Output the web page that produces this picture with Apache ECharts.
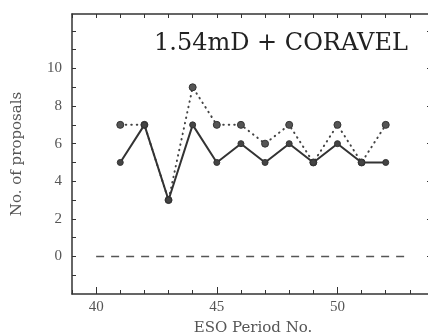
<!DOCTYPE html>
<html>
<head>
<meta charset="utf-8">
<script src="https://cdn.jsdelivr.net/npm/echarts@6/dist/echarts.min.js"></script>
<style>
  html, body { margin: 0; padding: 0; background: #fff; }
  #chart { width: 428px; height: 332px; }
</style>
</head>
<body>
<div id="chart"></div>
<script>
// ESO observing periods
const periods = [41, 42, 43, 44, 45, 46, 47, 48, 49, 50, 51, 52];
// proposals per period (solid line)
const proposalsSolid = [5, 7, 3, 7, 5, 6, 5, 6, 5, 6, 5, 5];
// proposals per period (dotted line)
const proposalsDotted = [7, 7, 3, 9, 7, 7, 6, 7, 5, 7, 5, 7];
// zero reference line end points
const zeroLine = [[40, 0], [52.8, 0]];
// tick labels
const xTickLabels = [40, 45, 50];
const yTickLabels = [0, 2, 4, 6, 8, 10];

const serif = '"Liberation Serif", "DejaVu Serif", serif';
const wideSerif = '"DejaVu Serif", "Liberation Serif", serif';
const ink = '#333';
const textGray = '#555';

const range = (a, b, s) => { const r = []; for (let v = a; v <= b + 1e-9; v += s) r.push(v); return r; };

const chart = echarts.init(document.getElementById('chart'), null, { renderer: 'canvas' });

const hidden = { show: false };
const noLine = { show: false, onZero: false };
const frameLine = { show: true, onZero: false, lineStyle: { color: ink, width: 1.5 } };

chart.setOption({
  animation: false,
  backgroundColor: '#fff',
  grid: { left: 72, top: 14, width: 362, height: 280, containLabel: false, outerBoundsMode: 'none' },
  title: {
    text: '1.54mD + CORAVEL',
    left: 149, top: 27,
    textStyle: { fontFamily: wideSerif, fontSize: 24, fontWeight: 'normal', color: '#222' }
  },
  xAxis: [
    {
      type: 'value', min: 39, max: 54, position: 'bottom',
      axisLine: frameLine,
      axisTick: { show: true, inside: true, length: 4, customValues: range(39, 54, 1), lineStyle: { color: ink, width: 1 } },
      axisLabel: { show: true, customValues: xTickLabels, margin: 6, fontFamily: serif, fontSize: 15, color: textGray },
      splitLine: hidden,
      name: 'ESO Period No.', nameLocation: 'middle', nameGap: 27,
      nameTextStyle: { fontFamily: wideSerif, fontSize: 15, color: textGray }
    },
    {
      type: 'value', min: 39, max: 54, position: 'bottom',
      axisLine: noLine,
      axisTick: { show: true, inside: true, length: 7, customValues: xTickLabels, lineStyle: { color: ink, width: 1 } },
      axisLabel: hidden, splitLine: hidden
    },
    {
      type: 'value', min: 39, max: 54, position: 'top',
      axisLine: frameLine,
      axisTick: { show: true, inside: true, length: 4, customValues: range(39, 54, 1), lineStyle: { color: ink, width: 1 } },
      axisLabel: hidden, splitLine: hidden
    }
  ],
  yAxis: [
    {
      type: 'value', min: -2, max: 12.9, position: 'left',
      axisLine: frameLine,
      axisTick: { show: true, inside: true, length: 4, customValues: range(-1, 12, 1), lineStyle: { color: ink, width: 1 } },
      axisLabel: { show: true, customValues: yTickLabels, margin: 10, fontFamily: serif, fontSize: 15, color: textGray },
      splitLine: hidden,
      name: 'No. of proposals', nameLocation: 'middle', nameGap: 47, nameRotate: 90,
      nameTextStyle: { fontFamily: wideSerif, fontSize: 15, color: textGray }
    },
    {
      type: 'value', min: -2, max: 12.9, position: 'right',
      axisLine: frameLine,
      axisTick: { show: true, inside: true, length: 7, customValues: range(0, 12, 2), lineStyle: { color: ink, width: 1 } },
      axisLabel: hidden, splitLine: hidden
    }
  ],
  series: [
    {
      type: 'line',
      data: zeroLine,
      symbol: 'none',
      lineStyle: { color: '#555', width: 1.5, type: [8, 7] },
      silent: true
    },
    {
      type: 'line',
      data: periods.map((p, i) => [p, proposalsDotted[i]]),
      symbol: 'circle', symbolSize: 7,
      itemStyle: { color: '#555', borderColor: '#333', borderWidth: 1 },
      lineStyle: { color: '#444', width: 2, type: [0.5, 5], cap: 'round' },
      z: 2
    },
    {
      type: 'line',
      data: periods.map((p, i) => [p, proposalsSolid[i]]),
      symbol: 'circle', symbolSize: 6,
      itemStyle: { color: '#444', borderColor: '#333', borderWidth: 1 },
      lineStyle: { color: '#333', width: 2 },
      z: 3
    }
  ]
});
</script>
</body>
</html>
